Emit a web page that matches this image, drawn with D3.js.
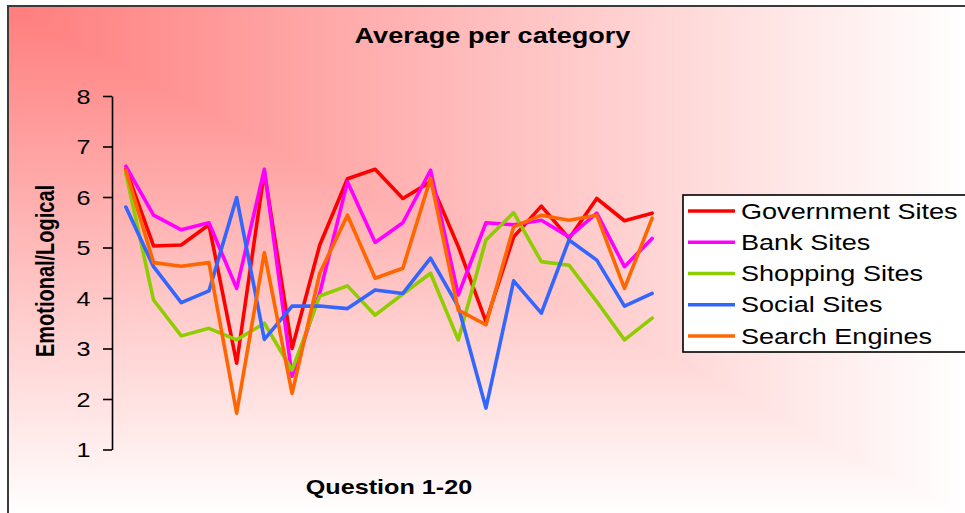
<!DOCTYPE html>
<html>
<head>
<meta charset="utf-8">
<script src="https://cdn.jsdelivr.net/npm/d3@7"></script>
<style>
  html, body { margin: 0; padding: 0; background: #ffffff; }
  svg { display: block; }
  text { font-family: "Liberation Sans", Arial, sans-serif; fill: #000; }
</style>
</head>
<body>
<svg id="chart" width="965" height="513"></svg>
<script>
// Question numbers along the category axis
const questions = [1, 2, 3, 4, 5, 6, 7, 8, 9, 10, 11, 12, 13, 14, 15, 16, 17, 18, 19, 20];

// Average emotional/logical score per question, one array per site category
const government = [6.55, 5.03, 5.05, 5.45, 2.71, 6.50, 3.00, 5.05, 6.36, 6.55, 5.97, 6.30, 5.02, 3.53, 5.21, 5.82, 5.18, 5.97, 5.53, 5.68];
const bank       = [6.61, 5.64, 5.35, 5.49, 4.19, 6.55, 2.45, 4.10, 6.30, 5.10, 5.49, 6.53, 4.06, 5.49, 5.45, 5.54, 5.21, 5.68, 4.62, 5.18];
const shopping   = [6.47, 3.96, 3.25, 3.40, 3.17, 3.50, 2.57, 4.04, 4.24, 3.66, 4.08, 4.49, 3.17, 5.15, 5.69, 4.72, 4.65, 3.93, 3.17, 3.60];
const social     = [5.80, 4.62, 3.91, 4.14, 5.99, 3.18, 3.84, 3.84, 3.79, 4.16, 4.09, 4.79, 3.83, 1.82, 4.34, 3.70, 5.15, 4.75, 3.84, 4.09];
const search     = [6.53, 4.70, 4.63, 4.70, 1.72, 4.90, 2.11, 4.49, 5.64, 4.39, 4.59, 6.37, 3.76, 3.47, 5.41, 5.64, 5.54, 5.64, 4.19, 5.58];

const seriesNames  = ["Government Sites", "Bank Sites", "Shopping Sites", "Social Sites", "Search Engines"];
const seriesColors = ["#ff0000", "#ff00ff", "#8fcc00", "#3366ff", "#ff6600"];
const yTicks = [1, 2, 3, 4, 5, 6, 7, 8];

const title  = "Average per category";
const xTitle = "Question 1-20";
const yTitle = "Emotional/Logical";

const series = [government, bank, shopping, social, search].map((values, i) => ({
  name: seriesNames[i], color: seriesColors[i], values
}));

// Text in this chart is drawn slightly wide
const SX = 1.26;

const svg = d3.select("#chart");
const defs = svg.append("defs");

// Chart frame
const frame = { x: 8, y: 6, w: 958, h: 510 };

// Corner gradient: colour depends on max(dx/W, dy/H), built from a horizontal
// and a vertical ramp combined with "lighten"
function ramp(id, x1, y1, x2, y2) {
  const g = defs.append("linearGradient").attr("id", id)
    .attr("gradientUnits", "userSpaceOnUse")
    .attr("x1", x1).attr("y1", y1).attr("x2", x2).attr("y2", y2);
  g.append("stop").attr("offset", 0).attr("stop-color", "#ff7d7d");
  g.append("stop").attr("offset", 1).attr("stop-color", "#ffffff");
}
ramp("rampH", frame.x, 0, frame.x + frame.w, 0);
ramp("rampV", 0, frame.y, 0, frame.y + frame.h);

const bg = svg.append("g").style("isolation", "isolate");
bg.append("rect").attr("x", frame.x).attr("y", frame.y)
  .attr("width", frame.w).attr("height", frame.h).attr("fill", "url(#rampH)");
bg.append("rect").attr("x", frame.x).attr("y", frame.y)
  .attr("width", frame.w).attr("height", frame.h).attr("fill", "url(#rampV)")
  .style("mix-blend-mode", "lighten");

svg.append("rect").attr("x", frame.x).attr("y", frame.y)
  .attr("width", frame.w).attr("height", frame.h)
  .attr("fill", "none").attr("stroke", "#3a3a3a").attr("stroke-width", 2);

// Plot area
const plot = { left: 112, right: 666, top: 96, bottom: 449.5 };

const x = d3.scalePoint().domain(questions).range([plot.left, plot.right]).padding(0.5);
const y = d3.scaleLinear().domain([1, 8]).range([plot.bottom, plot.top]);

// Title
svg.append("text")
  .attr("transform", `translate(492.5,43) scale(${SX},1)`)
  .attr("text-anchor", "middle")
  .style("font-size", "21.5px").style("font-weight", "bold")
  .text(title);

// Y axis
const yAxis = svg.append("g")
  .attr("transform", `translate(${plot.left},0)`)
  .call(d3.axisLeft(y).tickValues(yTicks).tickSize(9).tickSizeOuter(0).tickFormat(d3.format("d")));
yAxis.select(".domain").attr("stroke", "#000").attr("stroke-width", 1.6);
yAxis.selectAll(".tick line").attr("stroke", "#000").attr("stroke-width", 1.6);
yAxis.selectAll(".tick text")
  .attr("x", -21.5 / SX)
  .attr("dy", "0.36em")
  .attr("transform", `scale(${SX},1)`)
  .style("font-size", "20px")
  .style("font-family", "'Liberation Sans', Arial, sans-serif")
  .attr("fill", "#000");

// Axis titles
svg.append("text")
  .attr("transform", `translate(${(plot.left + plot.right) / 2 - 0},494) scale(${SX},1)`)
  .attr("x", (389 - (plot.left + plot.right) / 2) / SX)
  .attr("text-anchor", "middle")
  .style("font-size", "20px").style("font-weight", "bold")
  .text(xTitle);

svg.append("text")
  .attr("transform", `translate(54,271) scale(${SX},1) rotate(-90)`)
  .attr("text-anchor", "middle")
  .style("font-size", "20px").style("font-weight", "bold")
  .text(yTitle);

// Series lines, first series underneath
const line = d3.line()
  .x((d, i) => x(questions[i]))
  .y(d => y(d));

svg.append("g").selectAll("path")
  .data(series)
  .join("path")
  .attr("d", d => line(d.values))
  .attr("fill", "none")
  .attr("stroke", d => d.color)
  .attr("stroke-width", 3.6)
  .attr("stroke-linejoin", "round")
  .attr("stroke-linecap", "round");

// Legend
const legend = svg.append("g").attr("transform", "translate(683,195)");
legend.append("rect")
  .attr("width", 300).attr("height", 157)
  .attr("fill", "#ffffff").attr("stroke", "#000").attr("stroke-width", 1.6);

const rowY = d3.scalePoint().domain(seriesNames).range([16, 141]);
const rows = legend.selectAll("g.row").data(series).join("g")
  .attr("class", "row")
  .attr("transform", d => `translate(0,${rowY(d.name)})`);
rows.append("line")
  .attr("x1", 5).attr("x2", 52).attr("y1", 0).attr("y2", 0)
  .attr("stroke", d => d.color).attr("stroke-width", 3.6);
rows.append("text")
  .attr("transform", `translate(58,7.7) scale(${SX},1)`)
  .style("font-size", "21.5px")
  .attr("fill", "#1a1a1a")
  .text(d => d.name);
</script>
</body>
</html>
